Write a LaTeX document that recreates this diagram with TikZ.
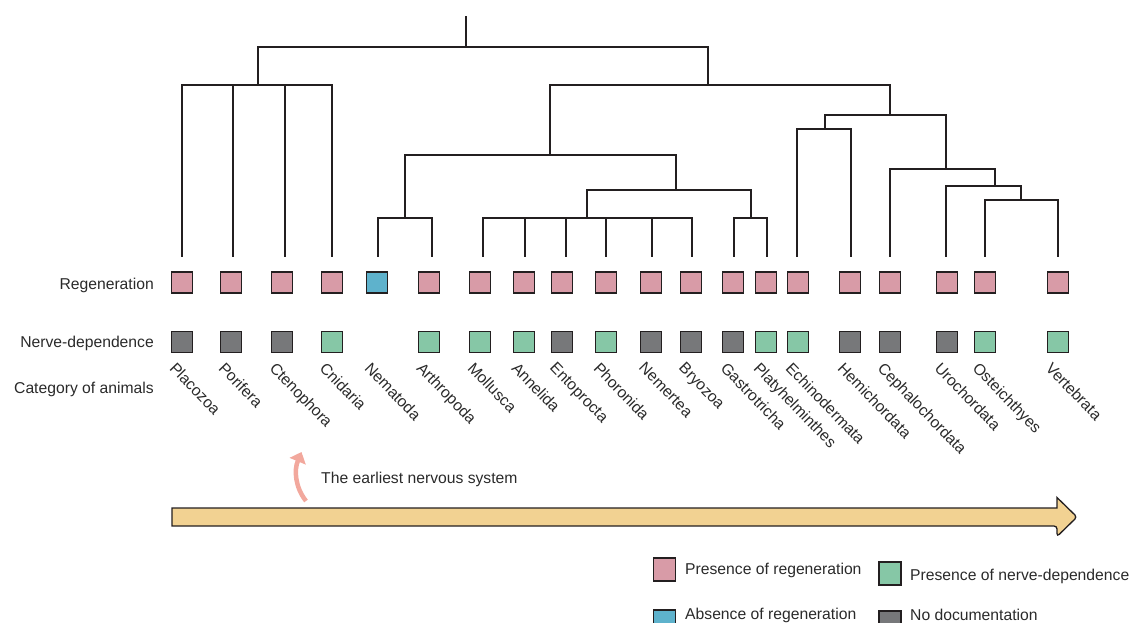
\documentclass[tikz,border=0pt]{standalone}
\usepackage{fontspec}
\setmainfont{Liberation Sans}
\usetikzlibrary{arrows.meta}
\definecolor{regc}{HTML}{D89BA7}
\definecolor{absc}{HTML}{5EB2CC}
\definecolor{nerc}{HTML}{86C7A6}
\definecolor{nodc}{HTML}{77787A}
\definecolor{tanc}{HTML}{F2D292}
\definecolor{salc}{HTML}{F2A89D}
\definecolor{inkc}{HTML}{231F20}
\definecolor{txtc}{HTML}{2A2A2A}
\begin{document}
\begin{tikzpicture}[x=1pt,y=-1pt,
  font=\fontsize{15.7}{18}\selectfont,
  tree/.style={draw=inkc,line width=2.7,line join=miter},
  sq/.style={draw=inkc,line width=1.3,minimum size=21,inner sep=0},
  animal/.style={rotate=-46,anchor=north west,inner sep=0,text=txtc},
  rowlab/.style={anchor=base east,inner sep=0,text=txtc},
  leglab/.style={anchor=base west,inner sep=0,text=txtc},
  legsq/.style={draw=inkc,line width=1.3,minimum width=22,minimum height=23,inner sep=0}]
\useasboundingbox (0,0) rectangle (1132,622);
\clip (0,0) rectangle (1132,622);

% row labels
\node[rowlab] (labreg) at (154,289) {Regeneration};
\node[rowlab] (labner) at (154,347) {Nerve-dependence};
\node[rowlab] (labcat) at (154,393) {Category of animals};

% leaves: index / square x / tree x / regeneration colour / name
\foreach \i/\sx/\tx/\rc/\nm in {
  1/182/182/regc/Placozoa, 2/231/233/regc/Porifera, 3/282/285/regc/Ctenophora,
  4/332/332/regc/Cnidaria, 5/377/378/absc/Nematoda, 6/429/432/regc/Arthropoda,
  7/480/483/regc/Mollusca, 8/524/525/regc/Annelida, 9/562/566/regc/Entoprocta,
  10/606/606/regc/Phoronida, 11/651/652/regc/Nemertea, 12/691/692/regc/Bryozoa,
  13/733/734/regc/Gastrotricha, 14/766/767/regc/Platyhelminthes,
  15/798/797/regc/Echinodermata, 16/850/851/regc/Hemichordata,
  17/890/890/regc/Cephalochordata, 18/947/946/regc/Urochordata,
  19/985/985/regc/Osteichthyes, 20/1058/1058/regc/Vertebrata}{
  \coordinate (t\i) at (\tx,257);
  \node[sq,fill=\rc] (r\i) at (\sx,282.5) {};
  \node[animal] (l\i) at (\sx-5,361) {\nm};
}
% nerve-dependence squares
\foreach \i/\sx/\nc in {1/182/nodc, 2/231/nodc, 3/282/nodc, 4/332/nerc,
  6/429/nerc, 7/480/nerc, 8/524/nerc, 9/562/nodc, 10/606/nerc, 11/651/nodc,
  12/691/nodc, 13/733/nodc, 14/766/nerc, 15/798/nerc, 16/850/nodc,
  17/890/nodc, 18/947/nodc, 19/985/nerc, 20/1058/nerc}{
  \node[sq,fill=\nc] (n\i) at (\sx,342) {};
}

% tree internal nodes (x of stem, y of bar)
\coordinate (R0) at (466,16);
\coordinate (N0) at (466,47);
\coordinate (A) at (258,85);
\coordinate (B) at (708,85);
\coordinate (C) at (550,155);
\coordinate (D) at (890,115);
\coordinate (E) at (405,218);
\coordinate (F) at (676,190);
\coordinate (G) at (587,218);
\coordinate (H) at (751,218);
\coordinate (I) at (825,129);
\coordinate (J) at (946,169);
\coordinate (K) at (995,186);
\coordinate (L) at (1021,200);

\draw[tree] (R0) -- (N0);
\foreach \p/\c in {N0/A, N0/B, B/C, B/D, C/E, C/F, F/G, F/H, D/I, D/J, J/K, K/L,
  A/t1, A/t2, A/t3, A/t4, E/t5, E/t6,
  G/t7, G/t8, G/t9, G/t10, G/t11, G/t12, H/t13, H/t14,
  I/t15, I/t16, J/t17, K/t18, L/t19, L/t20}{
  \draw[tree] (\p) -| (\c);
}

% earliest nervous system arrow
\coordinate (ea1) at (306,501);
\coordinate (ea2) at (301.5,452);
\draw[draw=salc,line width=4.5,-{Triangle[length=10,width=17]}]
  (ea1) .. controls (295,487) and (294,470) .. (ea2);
\node[leglab] (eatext) at (321,483) {The earliest nervous system};

% timeline arrow
\draw[fill=tanc,draw=inkc,line width=1.3]
  (172,508) -- (1057,508) -- (1057,497.5) [rounded corners=3] -- (1077,517)
  -- (1057,536.5) -- (1057,526) [sharp corners] -- (172,526) -- cycle;

% legend
\node[legsq,fill=regc] (lg1) at (664.5,569.5) {};
\node[leglab] (lt1) at (685,574) {Presence of regeneration};
\node[legsq,fill=nerc] (lg2) at (890,573.5) {};
\node[leglab] (lt2) at (910,580) {Presence of nerve-dependence};
\node[legsq,fill=absc] (lg3) at (664.5,621.5) {};
\node[leglab] (lt3) at (685,619) {Absence of regeneration};
\node[legsq,fill=nodc] (lg4) at (890,622.5) {};
\node[leglab] (lt4) at (910,620) {No documentation};
\end{tikzpicture}
\end{document}
